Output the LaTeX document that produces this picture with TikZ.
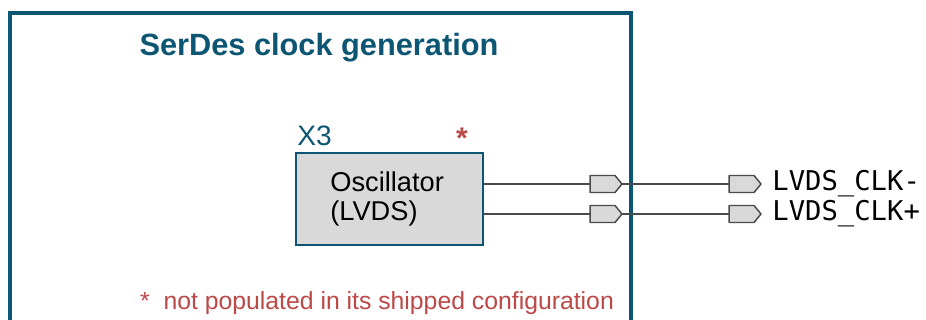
\documentclass[tikz,border=0pt]{standalone}
\usepackage{fontspec}
\setmainfont{Liberation Sans}
\newfontfamily\portfont{DejaVu Sans Mono}
\usetikzlibrary{positioning,calc}
\definecolor{frameteal}{RGB}{12,86,116}
\definecolor{noteRed}{RGB}{188,72,72}
\definecolor{boxgray}{RGB}{217,217,217}
\definecolor{wiregray}{RGB}{75,75,75}

\begin{document}
\begin{tikzpicture}[
  x=0.02cm, y=-0.02cm,
  block/.style={draw=frameteal, line width=1.6pt, fill=boxgray, minimum width=187*0.02cm, minimum height=92*0.02cm, inner sep=0pt},
  port/.style={minimum width=32*0.02cm, minimum height=17*0.02cm, inner sep=0pt, outer sep=0pt},
  portline/.style={draw=wiregray, line width=0.85pt, fill=boxgray, line join=round},
  wire/.style={draw=wiregray, line width=0.7pt},
  portlabel/.style={anchor=west, inner sep=0pt, font=\portfont\fontsize{15.5}{17}\selectfont}
]
\useasboundingbox (0,0) rectangle (926,320);
\begin{scope}
\clip (0,0) rectangle (926,320);
\draw[frameteal, line width=1.8pt] (10,13) rectangle (631,360);
\end{scope}
\node[text=frameteal, font=\bfseries\fontsize{17.5}{20}\selectfont] (title) at (319,48) {SerDes clock generation};

% oscillator
\node[block] (osc) at (389.5,199) {};
\node[anchor=north west, align=left, inner sep=0pt, font=\fontsize{15.5}{16.5}\selectfont] (osctext) at (330,171) {Oscillator\\(LVDS)};
\node[anchor=south west, inner sep=0pt, text=frameteal, font=\fontsize{16}{18}\selectfont] (ref) at (297,146) {X3};
\node[text=noteRed, inner sep=0pt, font=\bfseries\fontsize{17}{18}\selectfont] (star) at (462,138) {*};

% ports
\node[port] (pinA) at (606,184) {};
\node[port] (pinB) at (606,214) {};
\node[port] (outA) at (745,184) {};
\node[port] (outB) at (745,214) {};
\foreach \p in {pinA,pinB,outA,outB}
  \draw[portline] (\p.north west) -- ($(\p.north east)+(-7,0)$) -- (\p.east)
    -- ($(\p.south east)+(-7,0)$) -- (\p.south west) -- cycle;
\node[portlabel] (lblA) at (772,184) {LVDS\_CLK-};
\node[portlabel] (lblB) at (772,214) {LVDS\_CLK+};

\draw[wire] (osc.east |- pinA) -- (pinA.west);
\draw[wire] (osc.east |- pinB) -- (pinB.west);
\draw[wire] (pinA.east) -- (outA.west);
\draw[wire] (pinB.east) -- (outB.west);

\node[text=noteRed, font=\fontsize{14.1}{16}\selectfont] (note) at (377,303) {*\ \ not populated in its shipped configuration};
\end{tikzpicture}
\end{document}
